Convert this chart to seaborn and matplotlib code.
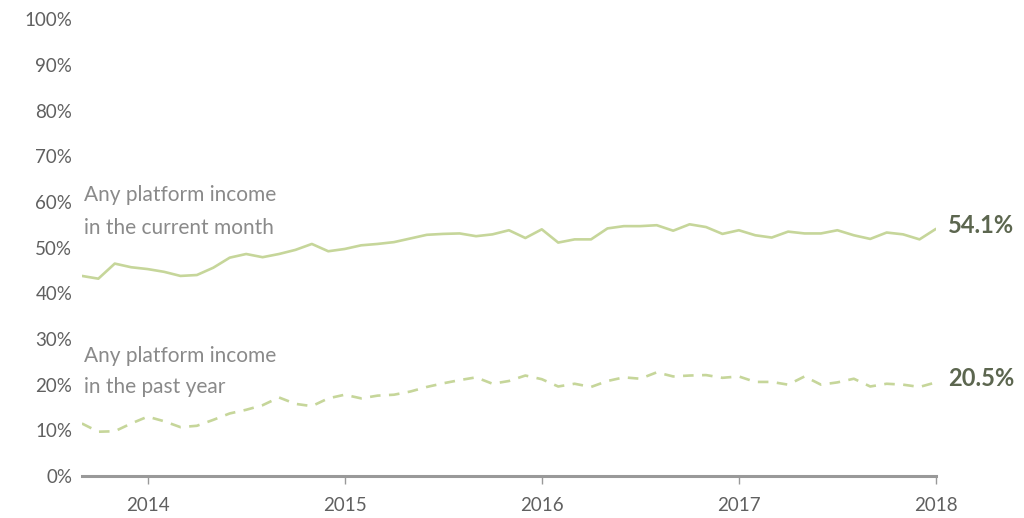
import numpy as np
import pandas as pd
import matplotlib
matplotlib.use("Agg")
import matplotlib.pyplot as plt
import seaborn as sns

# Monthly observations, Sep 2013 .. Jan 2018
start_year = 2013
start_month = 9
current_month = [43.8, 43.2, 46.5, 45.7, 45.3, 44.7, 43.8, 44.0, 45.6, 47.8,
                 48.6, 47.9, 48.6, 49.5, 50.8, 49.2, 49.7, 50.5, 50.8, 51.2,
                 52.0, 52.8, 53.0, 53.1, 52.5, 52.9, 53.8, 52.1, 54.0, 51.1,
                 51.8, 51.8, 54.2, 54.7, 54.7, 54.9, 53.7, 55.1, 54.5, 53.0,
                 53.8, 52.7, 52.2, 53.5, 53.1, 53.1, 53.8, 52.7, 51.9, 53.3,
                 52.9, 51.8, 54.1]
past_year = [11.5, 9.7, 9.8, 11.5, 13.0, 12.0, 10.7, 11.0, 12.3, 13.7,
             14.5, 15.5, 17.2, 15.8, 15.3, 17.0, 17.8, 17.0, 17.6, 17.8,
             18.5, 19.5, 20.3, 21.0, 21.6, 20.2, 20.8, 22.0, 21.2, 19.6,
             20.2, 19.5, 20.8, 21.6, 21.3, 22.7, 21.8, 22.0, 22.1, 21.5,
             21.8, 20.6, 20.6, 20.0, 21.8, 20.0, 20.5, 21.3, 19.6, 20.2,
             20.0, 19.5, 20.5]
series_names = ["Any platform income\nin the current month",
                "Any platform income\nin the past year"]
end_labels = ["54.1%", "20.5%"]
year_ticks = [2014, 2015, 2016, 2017, 2018]
y_ticks = [0, 10, 20, 30, 40, 50, 60, 70, 80, 90, 100]

n = len(current_month)
t = np.array([start_year + (start_month - 1 + i) / 12 for i in range(n)])
df = pd.DataFrame({
    "t": np.concatenate([t, t]),
    "value": current_month + past_year,
    "series": [series_names[0]] * n + [series_names[1]] * n,
})

sns.set_theme(style="white")
plt.rcParams["font.family"] = ["Lato", "DejaVu Sans"]

fig = plt.figure(figsize=(10.24, 5.18), dpi=100)
ax = fig.add_axes([0.080, 0.081, 0.834, 0.882])

line_color = "#c6d69a"
sns.lineplot(data=df, x="t", y="value", style="series",
             dashes={series_names[0]: "", series_names[1]: (4, 3.2)},
             color=line_color, linewidth=1.9, legend=False, ax=ax)

ax.set_xlim(t[0], t[-1])
ax.set_ylim(0, 100)
ax.set_xticks(year_ticks)
ax.set_xticklabels([str(y) for y in year_ticks])
ax.set_yticks(y_ticks)
ax.set_yticklabels([f"{v}%" for v in y_ticks])
ax.set_xlabel("")
ax.set_ylabel("")

for s in ["top", "right", "left"]:
    ax.spines[s].set_visible(False)
ax.spines["bottom"].set_color("#999999")
ax.spines["bottom"].set_linewidth(2.2)
ax.tick_params(axis="x", direction="out", length=6, width=1, color="#999999",
               bottom=True, labelsize=13.5, labelcolor="#606060", pad=9)
ax.tick_params(axis="y", length=0, labelsize=13.5, labelcolor="#606060", pad=7)

text_color = "#8a8a8a"
ax.text(t[0] + 0.01, 57.9, series_names[0], fontsize=15, color=text_color,
        va="center", ha="left", linespacing=1.8)
ax.text(t[0] + 0.01, 22.9, series_names[1], fontsize=15, color=text_color,
        va="center", ha="left", linespacing=1.7)

val_color = "#5c664f"
ax.text(t[-1] + 0.06, current_month[-1] + 0.7, end_labels[0], fontsize=17,
        fontweight="bold", color=val_color, va="center", ha="left")
ax.text(t[-1] + 0.06, past_year[-1] + 0.8, end_labels[1], fontsize=17,
        fontweight="bold", color=val_color, va="center", ha="left")

fig.savefig("out.png", dpi=100)
